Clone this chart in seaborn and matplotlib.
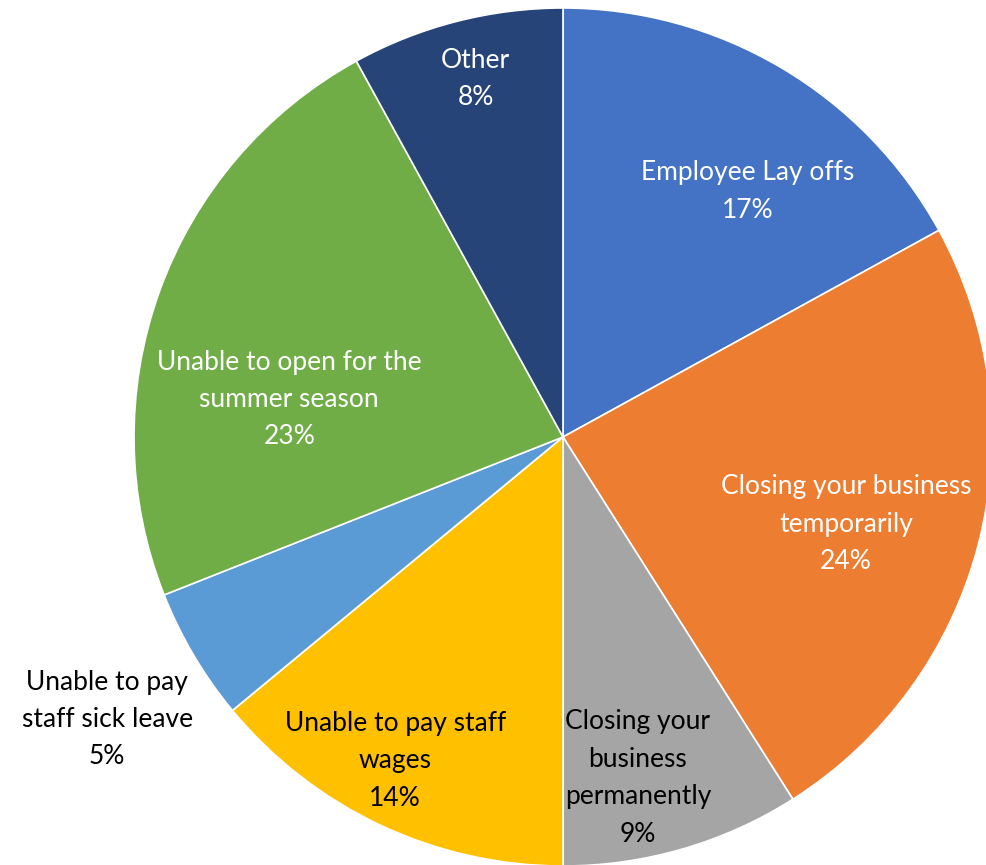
import numpy as np
import matplotlib.pyplot as plt
import seaborn as sns

# Data
categories = ['Employee Lay offs', 'Closing your business\ntemporarily', 'Closing your\nbusiness\npermanently',
              'Unable to pay staff\nwages', 'Unable to pay\nstaff sick leave', 'Unable to open for the\nsummer season',
              'Other']
values = [17, 24, 9, 14, 5, 23, 8]

colors = sns.color_palette(['#4472C4', '#ED7D31', '#A5A5A5', '#FFC000', '#5B9BD5', '#70AD47', '#264478'])
text_colors = ['white', 'white', 'black', 'black', 'black', 'white', 'white']
# label placement (fraction of radius, angle shift in degrees from wedge middle)
label_r = [0.716, 0.69, 0.814, 0.85, 1.25, 0.644, 0.859]
label_shift = [-6.4, -2.7, -3.8, -2.2, 1.2, 12.0, -0.7]

plt.rcParams['font.family'] = ['Lato', 'DejaVu Sans']

W, H = 986, 865
cx, cy, R = 563, 437, 429
fig = plt.figure(figsize=(W / 100, H / 100), dpi=100)
ax = fig.add_axes([0, 0, 1, 1])

wedges, _ = ax.pie(values, colors=colors, startangle=90, counterclock=False,
                   wedgeprops=dict(edgecolor='white', linewidth=1.2))

for w, cat, v, tc, r, sh in zip(wedges, categories, values, text_colors, label_r, label_shift):
    mid = np.deg2rad((w.theta1 + w.theta2) / 2 + sh)
    ax.text(r * np.cos(mid), r * np.sin(mid), f'{cat}\n{v}%', ha='center', va='center',
            color=tc, fontsize=19, linespacing=1.62)

ax.set_xlim(-cx / R, (W - cx) / R)
ax.set_ylim(-(H - cy) / R, cy / R)
ax.set_aspect('equal', adjustable='box')
ax.axis('off')

plt.savefig('out.png', dpi=100)
